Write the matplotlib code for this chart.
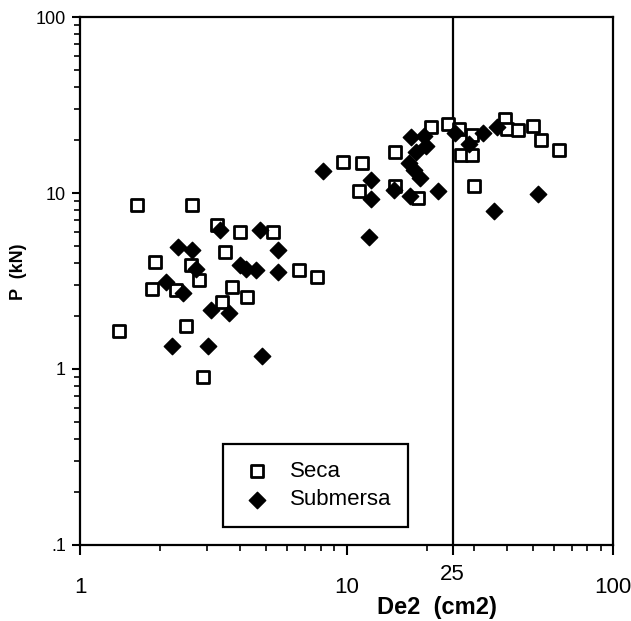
import matplotlib.pyplot as plt
from matplotlib.ticker import FixedLocator, FixedFormatter, LogLocator, NullFormatter

FONT = "Liberation Sans"
Y_TICK_FONT_SIZE = 13
X_TICK_FONT_SIZE = 16
Y_LABEL_FONT_SIZE = 13
X_LABEL_FONT_SIZE = 17
LEGEND_FONT_SIZE = 16

# Seca (open squares)
seca_x = [1.40, 1.64, 2.63, 3.26, 3.98, 5.30, 3.50, 1.91, 2.61, 2.79,
          3.72, 4.25, 1.87, 2.29, 3.40, 2.49, 2.90, 6.63, 7.73, 9.72,
          11.4, 11.1, 15.2, 15.2, 18.5, 20.8, 24.1, 26.4, 29.5, 27.0,
          29.6, 30.0, 39.3, 40.0, 44.1, 50.3, 53.7, 62.9]
seca_y = [1.64, 8.58, 8.58, 6.61, 6.01, 5.98, 4.60, 4.04, 3.92, 3.22,
          2.93, 2.56, 2.83, 2.80, 2.40, 1.76, 0.896, 3.67, 3.34, 15.1,
          14.8, 10.3, 17.0, 11.0, 9.37, 23.6, 24.6, 23.0, 21.4, 16.5,
          16.5, 11.0, 26.4, 23.1, 22.9, 24.1, 20.1, 17.6]

# Submersa (filled diamonds)
sub_x = [2.33, 2.63, 3.35, 4.75, 5.53, 3.98, 4.20, 4.56, 5.51, 2.72,
         2.10, 2.44, 3.10, 3.63, 2.22, 3.03, 4.82, 8.14, 12.4, 12.4,
         12.1, 15.1, 17.3, 22.0, 17.4, 19.5, 19.8, 18.3, 17.1, 17.9,
         18.9, 25.6, 28.8, 32.4, 36.6, 35.9, 52.2]
sub_y = [4.91, 4.74, 6.19, 6.19, 4.77, 3.92, 3.70, 3.67, 3.58, 3.71,
         3.11, 2.71, 2.15, 2.08, 1.35, 1.35, 1.18, 13.3, 11.8, 9.25,
         5.65, 10.4, 9.59, 10.3, 20.9, 21.1, 18.4, 17.2, 14.8, 13.6,
         12.2, 22.0, 19.0, 21.8, 23.6, 7.94, 9.91]

x_ticks = [1, 10, 25, 100]
x_tick_labels = ["1", "10", "25", "100"]
y_ticks = [0.1, 1, 10, 100]
y_tick_labels = [".1", "1", "10", "100"]
x_line = 25

plt.rcParams["font.family"] = [FONT, "DejaVu Sans"]

fig = plt.figure(figsize=(6.31, 6.21), dpi=100)
ax = fig.add_axes([0.1268, 0.1224, 0.8447, 0.8502])

ax.scatter(seca_x, seca_y, marker="s", s=72, facecolors="white",
           edgecolors="black", linewidths=2.0, label="Seca", zorder=3)
ax.scatter(sub_x, sub_y, marker="D", s=70, color="black",
           label="Submersa", zorder=4)

ax.axvline(x_line, color="black", lw=1.6, zorder=2)

ax.set_xscale("log")
ax.set_yscale("log")
ax.set_xlim(1, 100)
ax.set_ylim(0.1, 100)

ax.xaxis.set_major_locator(FixedLocator(x_ticks))
ax.xaxis.set_major_formatter(FixedFormatter(x_tick_labels))
ax.xaxis.set_minor_locator(LogLocator(base=10, subs=range(2, 10)))
ax.xaxis.set_minor_formatter(NullFormatter())
ax.yaxis.set_major_locator(FixedLocator(y_ticks))
ax.yaxis.set_major_formatter(FixedFormatter(y_tick_labels))
ax.yaxis.set_minor_locator(LogLocator(base=10, subs=range(2, 10)))
ax.yaxis.set_minor_formatter(NullFormatter())

ax.tick_params(axis="x", which="major", direction="out", length=7,
               width=1.5, labelsize=X_TICK_FONT_SIZE, pad=16)
ax.tick_params(axis="y", which="major", direction="out", length=6,
               width=1.5, labelsize=Y_TICK_FONT_SIZE, pad=4)
ax.tick_params(which="minor", direction="out", length=4, width=1.2)
ax.tick_params(top=False, right=False, which="both")

# the "25" label sits higher than the others
ax.xaxis.get_major_ticks()[2].set_pad(7)

for sp in ax.spines.values():
    sp.set_linewidth(1.6)

ax.set_xlabel("De2  (cm2)", fontsize=X_LABEL_FONT_SIZE, fontweight="bold")
ax.xaxis.set_label_coords(0.67, -0.118)
ax.xaxis.label.set_va("center")
ax.set_ylabel("P  (kN)", fontsize=Y_LABEL_FONT_SIZE, fontweight="bold")
ax.yaxis.set_label_coords(-0.116, 0.517)
ax.yaxis.label.set_va("center")

leg = ax.legend(loc="lower left", bbox_to_anchor=(0.268, 0.034),
                fontsize=LEGEND_FONT_SIZE, fancybox=False, frameon=True,
                borderpad=0.75, handlelength=1.6, handletextpad=0.65,
                labelspacing=0.35, borderaxespad=0)
leg.get_frame().set_edgecolor("black")
leg.get_frame().set_linewidth(1.6)
leg.get_frame().set_alpha(1)

plt.savefig("out.png", dpi=100)
